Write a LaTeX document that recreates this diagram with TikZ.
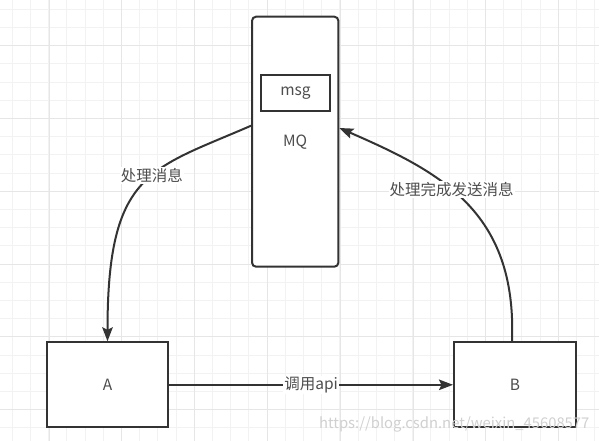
\documentclass[tikz,border=0pt]{standalone}
\usepackage{fontspec}
\setmainfont{Noto Sans CJK SC}
\usetikzlibrary{arrows.meta}
\definecolor{ln}{HTML}{333333}
\definecolor{tx}{HTML}{4D4D4D}
\definecolor{gminor}{HTML}{F2F2F2}
\definecolor{gmajor}{HTML}{E6E6E6}
\definecolor{wmark}{HTML}{D0D0D0}
\begin{document}
\begin{tikzpicture}[x=1pt,y=-1pt,
  box/.style={draw=ln, line width=2pt, fill=white, inner sep=0pt, text=tx, font=\fontsize{15.5}{18}\selectfont},
  lbl/.style={fill=white, inner sep=1pt, text=tx, font=\fontsize{15.5}{18}\selectfont},
  conn/.style={draw=ln, line width=2pt, -{Stealth[length=14pt,width=10.5pt,inset=2.5pt]}}]
\useasboundingbox (0,0) rectangle (599,441);
\fill[white] (0,0) rectangle (599,441);
\foreach \k in {0,...,32} {\draw[gminor, line width=1pt] ({12.3+18.2*\k},0) -- ({12.3+18.2*\k},441);}
\foreach \k in {0,...,23} {\draw[gminor, line width=1pt] (0,{9.3+18.2*\k}) -- (599,{9.3+18.2*\k});}
\foreach \k in {0,...,7} {\draw[gmajor, line width=1pt] ({49+72.8*\k},0) -- ({49+72.8*\k},441);}
\foreach \k in {0,...,5} {\draw[gmajor, line width=1pt] (0,{45.7+72.8*\k}) -- (599,{45.7+72.8*\k});}
\node[box, rounded corners=4pt, minimum width=86.3pt, minimum height=250pt] (mq) at (295.2,141.7) {MQ};
\node[box, minimum width=69pt, minimum height=36pt] (msg) at (295.5,93) {msg};
\node[box, minimum width=121.6pt, minimum height=85pt] (a) at (107.5,384.8) {A};
\node[box, minimum width=122pt, minimum height=85pt] (b) at (515,384.8) {B};
\draw[conn] ([yshift=16pt]mq.west) .. controls +(-101,44) and +(0,-170) .. (a.north) node[lbl, pos=0.43] {处理消息};
\draw[conn] ([xshift=-3pt]b.north) .. controls +(5,-130) and +(101,44) .. ([yshift=13.7pt]mq.east) node[lbl, pos=0.57] {处理完成发送消息};
\draw[conn] (a.east) -- (b.west) node[lbl, midway] {调用api};
\node[text=wmark, font=\fontsize{14.8}{17}\selectfont, anchor=base west, inner sep=0pt] (wm) at (319,428) {https://blog.csdn.net/weixin\_45608577};
\end{tikzpicture}
\end{document}
